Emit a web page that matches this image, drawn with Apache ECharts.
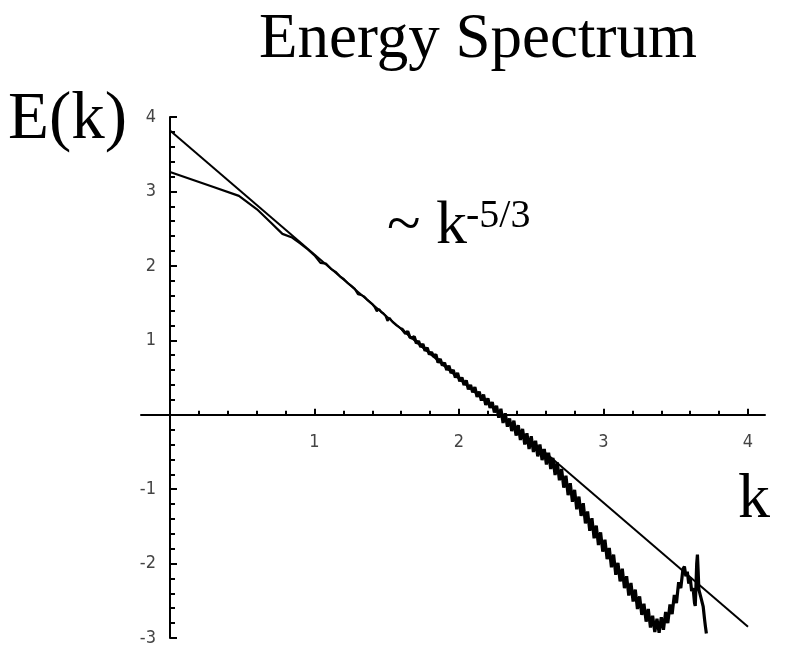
<!DOCTYPE html>
<html>
<head>
<meta charset="utf-8">
<script src="https://cdn.jsdelivr.net/npm/echarts@6/dist/echarts.min.js"></script>
<style>
  html, body { margin: 0; padding: 0; background: #fff; }
  #chart { width: 789px; height: 656px; }
</style>
</head>
<body>
<div id="chart"></div>
<script>
// log10(k) vs log10(E) : low wavenumbers, k = 1..40
const lowK = [
  [0.000, 3.26], [0.301, 3.06], [0.477, 2.94], [0.602, 2.76], [0.699, 2.58],
  [0.778, 2.43], [0.845, 2.38], [0.903, 2.30], [0.954, 2.22], [1.000, 2.14],
  [1.041, 2.04], [1.079, 2.03], [1.114, 1.96], [1.146, 1.92], [1.176, 1.86],
  [1.204, 1.82], [1.230, 1.77], [1.255, 1.73], [1.279, 1.69], [1.301, 1.62],
  [1.322, 1.61], [1.342, 1.59], [1.362, 1.55], [1.380, 1.52], [1.398, 1.49],
  [1.415, 1.45], [1.431, 1.39], [1.447, 1.42], [1.462, 1.38], [1.477, 1.36],
  [1.491, 1.33], [1.505, 1.26], [1.519, 1.30], [1.531, 1.27], [1.544, 1.24],
  [1.556, 1.25], [1.568, 1.20], [1.580, 1.22], [1.591, 1.17], [1.602, 1.16]
];

// inertial range
const inertial = [
  [1.615, 1.16], [1.630, 1.09], [1.645, 1.12], [1.660, 1.04], [1.675, 1.03],
  [1.690, 1.05], [1.705, 0.96], [1.720, 0.99], [1.735, 0.91], [1.750, 0.95],
  [1.765, 0.86], [1.780, 0.90], [1.795, 0.81], [1.810, 0.84], [1.825, 0.78],
  [1.840, 0.81], [1.855, 0.70], [1.870, 0.75], [1.885, 0.66], [1.900, 0.70],
  [1.915, 0.60], [1.930, 0.66], [1.945, 0.56], [1.960, 0.60], [1.975, 0.50],
  [1.990, 0.56], [2.005, 0.45], [2.020, 0.50], [2.035, 0.40], [2.050, 0.46],
  [2.065, 0.34], [2.080, 0.40], [2.095, 0.30], [2.110, 0.37], [2.125, 0.24],
  [2.140, 0.31], [2.155, 0.19], [2.170, 0.27], [2.185, 0.13], [2.200, 0.22],
  [2.215, 0.09], [2.230, 0.17], [2.245, 0.03], [2.260, 0.12], [2.275, -0.04],
  [2.290, 0.08], [2.305, -0.11], [2.320, 0.02], [2.335, -0.16], [2.350, -0.05],
  [2.365, -0.22], [2.380, -0.08], [2.395, -0.28], [2.410, -0.14], [2.425, -0.34],
  [2.440, -0.19], [2.455, -0.40], [2.470, -0.25], [2.485, -0.46], [2.500, -0.29],
  [2.515, -0.50], [2.530, -0.35], [2.545, -0.56], [2.560, -0.40], [2.575, -0.61],
  [2.590, -0.46], [2.605, -0.67], [2.620, -0.51]
];

// dissipation range
const dissipation = [
  [2.635, -0.73], [2.650, -0.58], [2.665, -0.81], [2.680, -0.64], [2.695, -0.88],
  [2.710, -0.73], [2.725, -0.98], [2.740, -0.82], [2.755, -1.08], [2.770, -0.92],
  [2.785, -1.17], [2.800, -1.01], [2.815, -1.27], [2.830, -1.10], [2.845, -1.36],
  [2.860, -1.19], [2.875, -1.46], [2.890, -1.30], [2.905, -1.56], [2.920, -1.39],
  [2.935, -1.66], [2.950, -1.49], [2.965, -1.75], [2.980, -1.58], [2.995, -1.84],
  [3.010, -1.68], [3.025, -1.94], [3.040, -1.79], [3.055, -2.05], [3.070, -1.88],
  [3.085, -2.15], [3.100, -1.99], [3.115, -2.24], [3.130, -2.07], [3.145, -2.33],
  [3.160, -2.17], [3.175, -2.43], [3.190, -2.26], [3.205, -2.51], [3.220, -2.35],
  [3.235, -2.61], [3.250, -2.44], [3.265, -2.69], [3.280, -2.54], [3.295, -2.78],
  [3.310, -2.61], [3.325, -2.86], [3.340, -2.70]
];

// bump near the cutoff
const bottleneck = [
  [3.355, -2.92], [3.370, -2.74], [3.385, -2.93], [3.400, -2.72], [3.415, -2.89],
  [3.430, -2.65], [3.445, -2.80], [3.460, -2.55], [3.475, -2.68], [3.490, -2.42],
  [3.505, -2.53], [3.520, -2.25], [3.535, -2.33], [3.550, -2.07], [3.560, -2.04],
  [3.570, -2.17], [3.580, -2.11], [3.590, -2.27], [3.600, -2.19], [3.610, -2.37],
  [3.620, -2.33], [3.630, -2.53], [3.635, -2.57], [3.640, -2.30], [3.645, -2.00],
  [3.650, -1.88], [3.655, -2.10], [3.660, -2.35], [3.670, -2.36], [3.680, -2.50],
  [3.690, -2.58], [3.700, -2.76], [3.705, -2.84], [3.712, -2.94]
];

// reference slope -5/3
const slopeLine = [[0, 3.82], [4, -2.85]];

const xTickLabels = [1, 2, 3, 4];
const yTickLabels = [-3, -2, -1, 1, 2, 3, 4];

// the noisy high-k part continues from the last low-k point
const highK = [lowK[lowK.length - 1]].concat(inertial, dissipation, bottleneck);

const tickFont = {
  fontFamily: "'Liberation Sans Narrow', 'DejaVu Sans Condensed', sans-serif",
  fontSize: 18,
  color: '#444'
};
const serif = "'Liberation Serif', 'DejaVu Serif', serif";
const black = { color: '#000', width: 2 };
const hiddenAxis = {
  type: 'value', axisLine: { show: false }, axisTick: { show: false },
  axisLabel: { show: false }, splitLine: { show: false }
};

// plot area: x 0..4, y -3..4 ; the upper band (y 0..4) carries the k axis on its lower edge
const plotTop = 117, plotHeight = 521;
const upperHeight = plotHeight * 4 / 7;

const chart = echarts.init(document.getElementById('chart'), null, { renderer: 'canvas' });

chart.setOption({
  animation: false,
  backgroundColor: '#fff',
  grid: [
    { left: 170, width: 578, top: plotTop, height: plotHeight },
    { left: 141, right: 24, top: plotTop, height: upperHeight },
    { left: 170, width: 578, top: plotTop, height: upperHeight }
  ],
  xAxis: [
    { ...hiddenAxis, gridIndex: 0, min: 0, max: 4 },
    {
      ...hiddenAxis, gridIndex: 1, min: -0.2, max: 4.12,
      axisLine: { show: true, onZero: false, lineStyle: black }
    },
    {
      type: 'value', gridIndex: 2, min: 0, max: 4, interval: 1,
      axisLine: { show: false, onZero: false },
      axisTick: { show: true, inside: true, length: 6, lineStyle: black },
      minorTick: { show: true, splitNumber: 5, length: 4, lineStyle: black },
      axisLabel: {
        ...tickFont, margin: 19,
        formatter: v => (xTickLabels.indexOf(v) >= 0 ? String(v) : '')
      },
      splitLine: { show: false }
    }
  ],
  yAxis: [
    {
      type: 'value', gridIndex: 0, min: -3, max: 4, interval: 1,
      axisLine: { show: true, onZero: false, lineStyle: black },
      axisTick: { show: true, inside: true, length: 7, lineStyle: black },
      minorTick: { show: true, splitNumber: 5, length: 5, lineStyle: black },
      axisLabel: {
        ...tickFont, margin: 14,
        formatter: v => (yTickLabels.indexOf(v) >= 0 ? String(v) : '')
      },
      splitLine: { show: false }
    },
    { ...hiddenAxis, gridIndex: 1, min: 0, max: 4 },
    { ...hiddenAxis, gridIndex: 2, min: 0, max: 4 }
  ],
  series: [
    {
      type: 'line', xAxisIndex: 0, yAxisIndex: 0,
      data: slopeLine, showSymbol: false, symbol: 'none',
      lineStyle: { color: '#000', width: 2 }
    },
    {
      type: 'line', xAxisIndex: 0, yAxisIndex: 0,
      data: lowK, showSymbol: false, symbol: 'none',
      lineStyle: { color: '#000', width: 2.2 }
    },
    {
      type: 'line', xAxisIndex: 0, yAxisIndex: 0,
      data: highK, showSymbol: false, symbol: 'none',
      lineStyle: { color: '#000', width: 3.2 }
    }
  ],
  graphic: [
    { type: 'text', left: 259, top: 9,
      style: { text: 'Energy Spectrum', font: '63px ' + serif, fill: '#000' } },
    { type: 'text', left: 8, top: 87,
      style: { text: 'E(k)', font: '67px ' + serif, fill: '#000' } },
    { type: 'text', left: 738, top: 468,
      style: { text: 'k', font: '64px ' + serif, fill: '#000' } },
    { type: 'text', left: 387, top: 196,
      style: { text: '~ k', font: '62px ' + serif, fill: '#000' } },
    { type: 'text', left: 466, top: 196,
      style: { text: '-5/3', font: '40px ' + serif, fill: '#000' } }
  ]
});
</script>
</body>
</html>
